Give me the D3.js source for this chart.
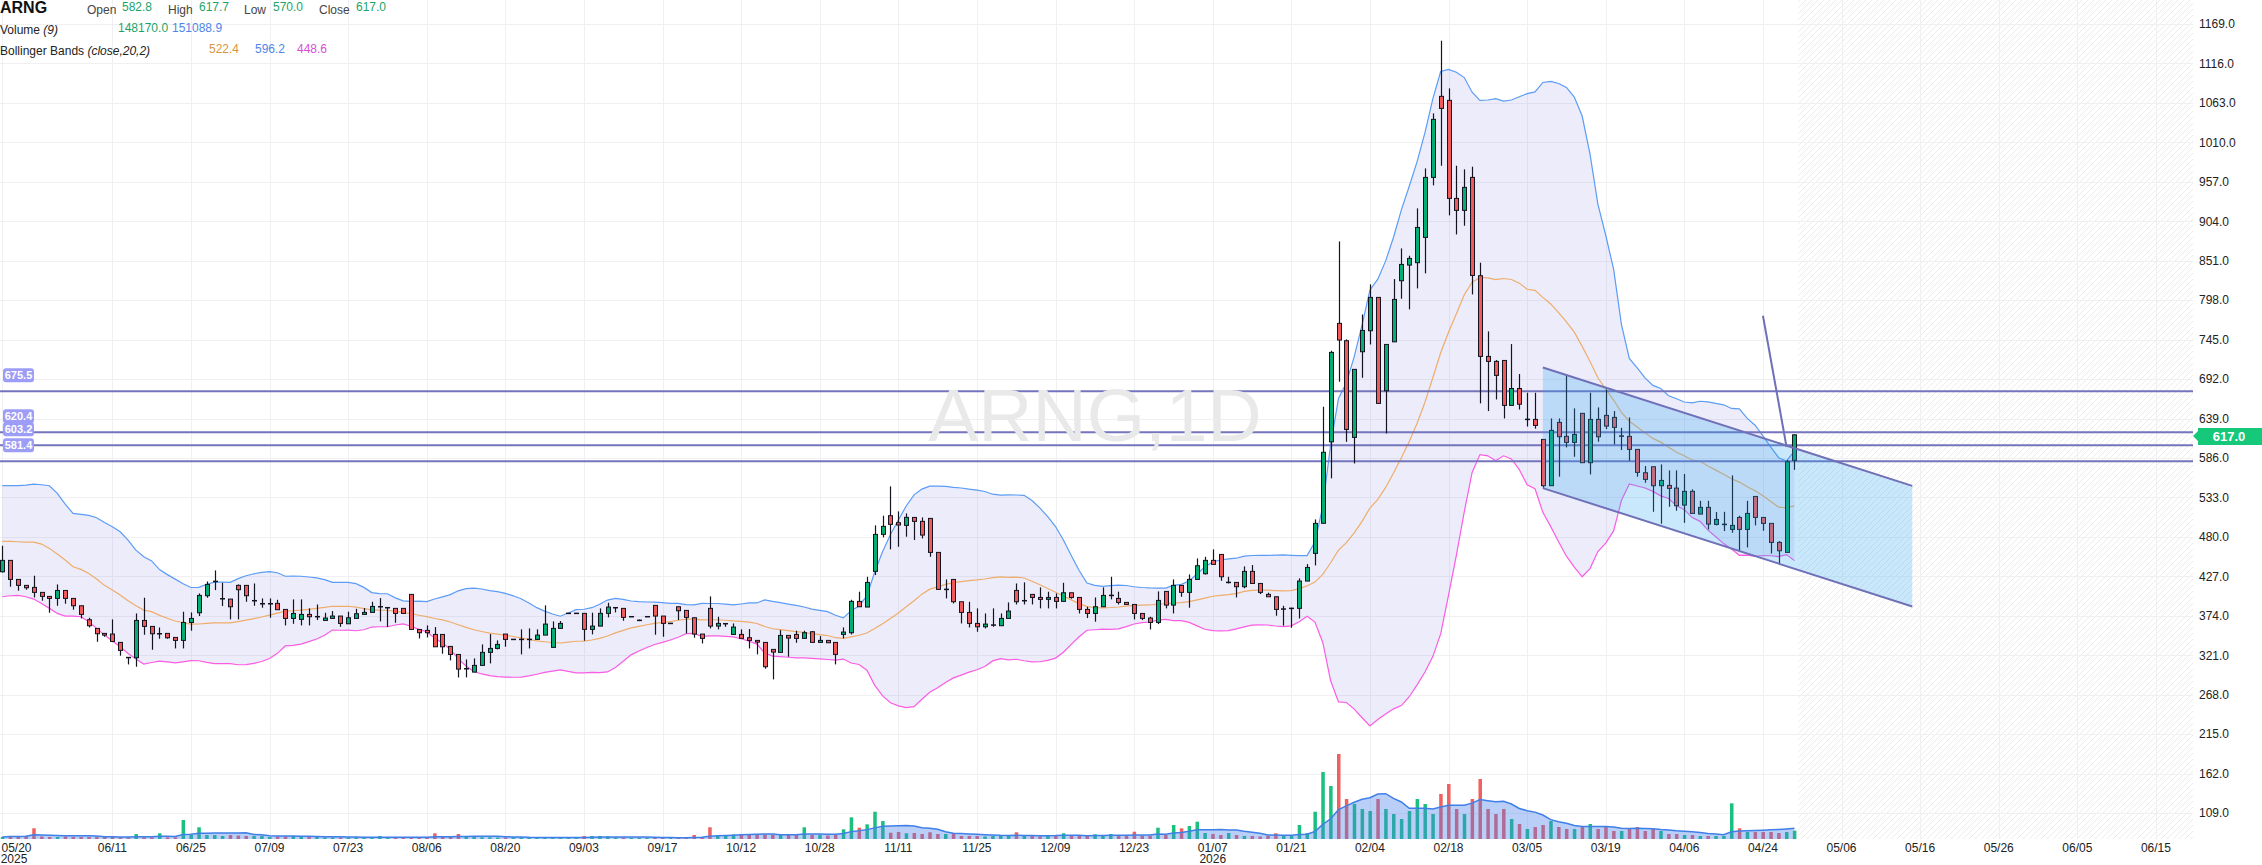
<!DOCTYPE html>
<html><head><meta charset="utf-8">
<script src="https://cdn.jsdelivr.net/npm/d3@7"></script>
<style>html,body{margin:0;padding:0;background:#fff;overflow:hidden}svg{display:block;font-family:"Liberation Sans",Arial,sans-serif}</style>
</head><body>
<svg id="c" width="2262" height="865"></svg>
<script>
const opens=[433.1,448.4,422.8,414.8,412.1,405.4,400.0,397.3,408.0,397.3,
387.4,368.6,357.0,350.3,349.4,338.2,317.8,317.6,367.7,359.7,
349.8,350.3,344.9,340.9,365.0,378.0,400.9,420.1,396.8,396.4,
414.8,414.8,394.2,390.1,390.1,390.6,382.5,370.4,369.1,375.8,
372.7,367.7,370.4,373.6,363.2,370.4,375.8,378.5,386.1,384.8,
383.9,383.9,402.7,355.6,354.3,348.9,348.9,332.8,322.0,302.8,
298.3,307.3,324.8,330.1,349.4,342.2,342.2,342.2,342.2,348.0,
331.5,357.0,377.2,377.2,377.2,355.7,360.1,377.2,384.8,383.9,
372.7,367.8,372.7,387.9,373.6,363.7,386.1,381.2,371.3,349.4,
383.9,360.1,363.3,348.9,348.9,344.5,340.9,338.2,328.8,324.8,
347.6,348.9,343.6,352.5,338.2,340.9,338.2,348.9,351.2,393.3,
385.7,433.6,483.3,508.4,499.0,495.4,506.1,500.8,504.8,459.1,
409.4,422.8,392.8,378.5,363.7,359.2,361.5,360.6,370.4,408.0,
394.2,402.7,398.6,396.0,398.6,393.3,404.9,398.6,382.5,377.1,
386.1,401.3,397.3,391.9,389.2,377.1,370.9,365.0,406.7,388.3,
414.8,405.4,422.8,430.4,448.4,456.4,418.8,418.8,413.0,433.6,
417.4,402.7,399.5,383.0,383.9,383.9,420.6,457.8,498.2,607.7,
766.8,743.5,613.6,728.7,756.9,801.7,676.3,742.0,824.1,845.1,
848.3,882.3,962.9,1071.8,1066.4,934.7,918.6,962.9,830.8,722.4,
715.7,717.0,656.6,679.3,637.8,637.8,610.9,548.7,633.8,615.0,
606.9,645.9,579.6,637.8,643.2,640.5,615.4,615.0,597.5,566.1,
574.2,548.7,549.1,545.5,522.7,541.1,510.6,519.6,496.7,496.7,
490.0,506.1,490.0,534.3,506.1,498.1,472.5,459.1,582.8];
const highs=[468.1,448.4,422.8,414.8,427.8,405.4,400.0,416.1,408.0,397.3,
387.4,371.3,357.0,350.3,369.1,338.2,317.8,377.1,398.2,359.7,
358.3,350.3,344.9,379.4,378.5,404.0,420.1,434.9,418.3,396.4,
416.1,414.8,417.4,397.3,397.3,395.5,382.5,396.0,396.0,383.9,
389.2,378.0,380.3,373.6,379.4,383.4,384.3,392.8,397.7,384.8,
383.9,383.9,402.7,355.6,361.0,358.8,348.9,332.8,322.0,315.3,
316.7,335.5,349.4,340.9,349.4,342.2,355.7,357.0,355.7,387.9,
366.4,366.9,377.2,377.2,377.2,378.1,383.9,391.5,384.8,383.9,
372.7,368.8,372.7,387.9,373.6,363.7,386.1,381.2,371.3,349.4,
400.0,372.7,363.3,363.7,355.7,356.1,340.9,338.2,328.8,354.8,
347.6,353.9,353.9,353.4,346.7,340.9,338.2,358.3,395.5,406.3,
426.4,495.4,508.4,547.8,514.2,511.5,506.1,506.1,504.8,459.1,
422.8,422.8,392.8,392.8,383.9,377.1,383.9,377.1,391.9,417.4,
418.8,402.7,412.1,406.3,404.0,418.3,404.9,398.6,386.1,398.6,
412.1,426.4,406.3,391.9,389.2,377.1,372.7,406.7,406.7,422.8,
414.8,429.5,451.0,453.3,463.1,456.4,426.4,418.8,440.3,442.1,
417.4,405.0,399.5,387.4,384.8,424.2,443.4,503.4,654.8,730.0,
876.9,745.3,705.0,778.8,819.2,801.7,738.5,826.3,867.5,857.7,
921.3,975.0,1048.9,1146.6,1082.5,978.6,973.7,977.3,848.3,756.0,
717.5,717.0,739.0,698.7,673.6,673.6,610.9,639.1,639.1,696.0,
652.6,645.9,673.6,653.9,678.1,649.0,626.6,640.5,597.5,575.1,
574.2,577.3,569.3,569.3,564.4,543.8,528.5,528.5,513.3,513.7,
562.6,508.4,528.5,534.3,506.1,498.1,474.3,583.2,617.7];
const lows=[432.0,413.0,407.6,409.0,398.6,394.2,378.0,387.4,390.1,382.1,
370.4,358.3,339.1,345.8,338.6,320.3,308.6,305.5,348.5,328.3,
343.1,343.1,330.1,330.1,353.9,373.6,398.2,408.5,387.0,369.1,
369.1,392.8,387.4,384.8,371.3,382.1,361.0,363.2,361.0,361.0,
368.2,367.7,370.4,359.2,363.2,370.4,375.8,378.5,366.4,358.8,
364.6,377.1,355.6,343.5,344.9,332.3,323.0,314.0,291.1,291.2,
298.3,307.3,310.0,328.8,332.4,342.2,322.1,330.1,342.2,348.0,
331.5,357.0,377.2,377.2,340.4,349.0,360.1,371.8,378.5,367.3,
372.7,366.8,372.7,348.5,345.8,363.7,368.2,350.3,344.5,336.8,
357.0,355.7,359.2,348.9,343.6,330.1,322.1,302.8,288.5,324.8,
318.9,337.7,343.6,338.2,338.2,337.7,308.6,343.6,348.9,386.1,
385.7,428.7,479.3,463.2,466.7,480.2,475.7,477.9,453.3,408.5,
397.3,390.6,363.7,358.3,352.5,357.0,359.2,360.6,370.4,389.2,
389.2,389.2,383.9,383.9,383.9,393.3,396.8,377.1,370.9,366.0,
386.1,396.0,389.2,389.2,369.1,368.2,355.6,362.8,383.9,377.1,
399.5,384.8,422.8,429.5,443.0,421.0,417.4,398.6,410.9,417.4,
403.1,399.5,374.0,360.6,357.9,370.4,420.6,441.6,498.2,558.6,
688.4,607.7,578.6,693.7,738.5,659.3,618.9,742.0,799.9,785.6,
813.8,834.0,952.2,978.6,911.9,886.3,898.0,805.7,659.3,649.0,
664.6,639.1,656.6,651.0,628.2,625.3,545.1,548.7,560.8,600.2,
587.6,579.6,563.9,607.8,624.8,604.2,596.6,582.3,560.8,552.7,
513.7,497.6,520.4,515.1,498.9,511.5,510.6,490.0,495.4,487.8,
485.5,461.3,465.8,495.4,488.2,457.7,443.0,459.1,570.0];
const closes=[448.4,422.8,414.8,411.6,405.4,400.0,397.3,408.0,397.3,387.4,
375.8,360.6,349.8,348.0,339.5,327.4,317.6,367.7,359.7,349.8,
349.8,344.4,340.9,365.0,370.4,401.3,416.1,420.1,396.8,386.1,
409.0,400.9,394.2,390.1,390.1,382.1,370.4,377.1,375.8,372.7,
372.7,370.9,373.6,363.7,371.3,376.7,378.5,386.5,386.1,384.8,
377.1,377.1,355.6,351.2,351.2,332.3,332.3,322.0,302.3,302.8,
307.3,324.8,330.1,335.5,342.2,342.2,342.2,342.2,348.0,362.8,
357.0,363.7,377.2,377.2,355.7,360.1,377.2,385.7,384.8,371.8,
372.7,367.8,372.7,373.6,363.7,363.7,380.7,371.8,349.4,343.6,
360.1,363.7,363.3,358.8,343.6,340.9,338.6,305.5,325.2,347.6,
344.0,343.6,351.2,338.2,340.9,337.7,322.1,352.1,393.3,386.1,
418.8,483.3,494.1,496.8,495.9,506.2,500.8,482.4,459.1,409.4,
409.4,392.8,378.5,363.7,359.2,362.8,361.5,370.4,380.3,392.8,
394.2,398.6,396.0,398.6,393.3,404.9,398.6,382.5,377.1,386.1,
401.3,401.3,391.9,389.2,377.1,370.4,365.0,394.6,388.3,414.8,
405.4,422.8,441.2,448.4,443.0,426.4,418.8,413.0,433.6,417.4,
405.4,399.5,382.5,383.0,383.9,420.6,438.9,498.1,593.6,727.8,
744.4,624.3,705.0,757.3,801.7,659.3,738.5,799.0,846.0,854.1,
895.7,962.9,1040.9,1055.6,934.7,918.6,949.5,831.2,722.4,715.7,
696.9,656.6,679.3,658.2,637.8,629.7,548.7,623.0,614.5,606.9,
617.6,579.6,637.8,614.5,628.8,627.1,615.4,597.5,566.6,557.2,
548.7,555.8,545.1,521.8,541.1,511.5,519.6,497.2,503.4,496.7,
495.4,490.0,511.5,506.1,498.1,472.5,461.3,580.9,617.0];
const volumes=[36000,54000,45000,54000,191000,45000,36000,36000,45000,36000,
36000,36000,36000,45000,36000,30000,30000,89000,30000,30000,
102000,30000,30000,339000,71000,209000,71000,71000,54000,71000,
62000,54000,54000,54000,36000,45000,45000,54000,45000,36000,
36000,27000,27000,27000,30000,27000,27000,27000,54000,27000,
27000,18000,36000,30000,30000,102000,36000,36000,89000,36000,
36000,30000,30000,27000,27000,27000,30000,27000,27000,27000,
27000,27000,18000,18000,54000,54000,54000,45000,27000,27000,
18000,18000,18000,27000,27000,18000,27000,27000,71000,36000,
209000,71000,71000,80000,80000,80000,80000,80000,71000,71000,
71000,71000,209000,71000,71000,62000,71000,173000,387000,202000,
262000,487000,321000,112000,125000,102000,107000,89000,120000,89000,
89000,102000,54000,54000,54000,45000,54000,54000,54000,120000,
54000,54000,45000,54000,54000,102000,54000,54000,54000,84000,
71000,89000,54000,54000,130000,54000,54000,202000,71000,250000,
191000,232000,309000,107000,89000,71000,107000,71000,54000,54000,
45000,54000,102000,54000,54000,250000,107000,487000,1196000,946000,
1518000,714000,625000,536000,500000,714000,536000,446000,357000,500000,
714000,625000,446000,804000,982000,536000,446000,714000,1071000,536000,
446000,536000,357000,268000,179000,214000,250000,321000,214000,179000,
179000,214000,268000,179000,214000,143000,143000,179000,214000,143000,
179000,143000,89000,89000,71000,71000,54000,54000,54000,54000,
637000,191000,125000,125000,125000,125000,107000,125000,148170];
// Bollinger values visible for the first bars (history before the window)
const bbUpperHead=[548.7,548.7,548.7,549.6,550.9,550.0,548.7,538.4,524.0,511.5,510.2,508.8,505.7,499.4,493.6,486.9,475.7,462.2,453.3];
const bbMidHead=[473.9,473.9,473.4,473.0,473.0,470.3,464.5,456.9,448.8,439.8,436.3,430.9,423.3,414.8,408.5,401.8,394.2,387.4,381.6];
const bbLowerHead=[399.5,400.9,401.3,399.5,396.4,390.6,383.9,377.1,373.6,373.6,372.7,366.0,357.0,348.0,340.0,332.4,323.4,315.8,309.1];
const dateTicks=["05/20","06/11","06/25","07/09","07/23","08/06","08/20","09/03","09/17","10/12","10/28","11/11","11/25","12/09","12/23","01/07","01/21","02/04","02/18","03/05","03/19","04/06","04/24","05/06","05/16","05/26","06/05","06/15"];
const dateTickBars=[0,14,24,34,44,54,64,74,84,94,104,114,124,134,144,154,164,174,184,194,204,214,224,234,244,254,264,274];
const yearLabels=[{bar:0,text:"2025"},{bar:154,text:"2026"}];
const priceTicks=[1169,1116,1063,1010,957,904,851,798,745,692,639,586,533,480,427,374,321,268,215,162,109];
const levels=[675.5,620.4,603.2,581.4];
const channelUpper=[[196,707.5],[243,548.5]];
const channelLower=[[196,545.5],[243,386.5]];
const trendLine=[[224,777],[227,601]];
const legendVol=["148170.0","151088.9"];
const legendBB=["522.4","596.2","448.6"];

const W=2262,H=865,plotR=2193,volBase=839;
const n=closes.length;
const svg=d3.select('#c');
const x=d3.scaleLinear().domain([0,274]).range([2.3,2.3+7.86*274]);
const y=d3.scaleLinear().domain([109,1169]).range([813,24]);
const yv=d3.scaleLinear().domain([0,1500000]).range([volBase,volBase-84]);

// BB
const bbU=[],bbM=[],bbL=[];
for(let i=0;i<n;i++){
  if(i<bbMidHead.length){bbU.push(bbUpperHead[i]);bbM.push(bbMidHead[i]);bbL.push(bbLowerHead[i]);continue;}
  const w=closes.slice(i-19,i+1);const m=d3.mean(w);const sd=Math.sqrt(d3.mean(w,v=>(v-m)*(v-m)));
  bbU.push(m+2*sd);bbM.push(m);bbL.push(m-2*sd);
}
const vma=volumes.map((v,i)=>d3.mean(volumes.slice(Math.max(0,i-8),i+1)));

const defs=svg.append('defs');
const pat=defs.append('pattern').attr('id','hatch').attr('patternUnits','userSpaceOnUse').attr('width',6).attr('height',6);
pat.append('path').attr('d','M-1,1 l2,-2 M0,6 l6,-6 M5,7 l2,-2').attr('stroke','#ececec').attr('stroke-width',1);
defs.append('clipPath').attr('id','plot').append('rect').attr('x',0).attr('y',0).attr('width',plotR).attr('height',volBase);

svg.append('rect').attr('width',W).attr('height',H).attr('fill','#fff');
const lastX=x(n-1)+4;
svg.append('rect').attr('x',lastX).attr('y',0).attr('width',plotR-lastX).attr('height',volBase).attr('fill','url(#hatch)');

// grid
const g=svg.append('g').attr('clip-path','url(#plot)');
g.selectAll('.hg').data(priceTicks).join('line').attr('x1',0).attr('x2',plotR).attr('y1',d=>Math.round(y(d))+0.5).attr('y2',d=>Math.round(y(d))+0.5).attr('stroke','#f0f0f2');
g.selectAll('.vg').data(dateTickBars).join('line').attr('y1',0).attr('y2',volBase).attr('x1',d=>Math.round(x(d))+0.5).attr('x2',d=>Math.round(x(d))+0.5).attr('stroke','#f0f0f2');

// watermark
svg.append('text').attr('x',1095).attr('y',441).attr('text-anchor','middle').attr('font-size',75).attr('fill','#e9e9e9').text('ARNG,1D');

// BB
const idx=d3.range(n);
g.append('path').datum(idx).attr('fill','rgba(125,125,230,0.15)').attr('d',d3.area().x(i=>x(i)).y0(i=>y(bbL[i])).y1(i=>y(bbU[i])));
const ln=arr=>d3.line().x(i=>x(i)).y(i=>y(arr[i]));
g.append('path').datum(idx).attr('fill','none').attr('stroke','#efad6a').attr('stroke-width',1.2).attr('d',ln(bbM));
g.append('path').datum(idx).attr('fill','none').attr('stroke','#5b9cf6').attr('stroke-width',1.2).attr('d',ln(bbU));
g.append('path').datum(idx).attr('fill','none').attr('stroke','#fa5ce4').attr('stroke-width',1.2).attr('d',ln(bbL));

// volume
const up=i=>closes[i]>=opens[i];
g.selectAll('.vb').data(idx).join('rect').attr('x',i=>x(i)-1.5).attr('width',3.5)
 .attr('y',i=>yv(volumes[i])).attr('height',i=>volBase-yv(volumes[i]))
 .attr('fill',i=>up(i)?'#1bc07f':'#f06060');
g.append('path').datum(idx).attr('fill','rgba(70,130,235,0.38)').attr('d',d3.area().x(i=>x(i)).y0(volBase).y1(i=>yv(vma[i])));
g.append('path').datum(idx).attr('fill','none').attr('stroke','#3f7fe8').attr('stroke-width',1.5).attr('d',d3.line().x(i=>x(i)).y(i=>yv(vma[i])));

// horizontal levels
g.selectAll('.lv').data(levels).join('line').attr('x1',0).attr('x2',plotR).attr('y1',d=>y(d)).attr('y2',d=>y(d)).attr('stroke','#7575bd').attr('stroke-width',2);

// candles
const cg=g.append('g');
idx.forEach(i=>{
  const cx=Math.round(x(i))+0.5;
  cg.append('line').attr('x1',cx).attr('x2',cx).attr('y1',y(highs[i])).attr('y2',y(lows[i])).attr('stroke','#141420').attr('stroke-width',1.2);
  const yo=y(opens[i]),yc=y(closes[i]);
  const top=Math.min(yo,yc),h=Math.abs(yo-yc);
  if(h<1.2){
    cg.append('line').attr('x1',cx-2.5).attr('x2',cx+2.5).attr('y1',top).attr('y2',top).attr('stroke','#141420').attr('stroke-width',1.5);
  } else {
    cg.append('rect').attr('x',cx-2).attr('y',top).attr('width',4).attr('height',h)
      .attr('fill',up(i)?'#04ad72':'#f05a5a').attr('stroke','#141420').attr('stroke-width',1);
  }
});

// channel
const chPoly=[channelUpper[0],channelUpper[1],channelLower[1],channelLower[0]];
const chLine=d3.line().x(d=>x(d[0])).y(d=>y(d[1]));
g.append('path').datum(chPoly).attr('fill','rgba(41,162,240,0.25)').attr('d',d=>chLine(d)+'Z');
[channelUpper,channelLower,trendLine].forEach(seg=>{
  g.append('path').datum(seg).attr('fill','none').attr('stroke','#7070b8').attr('stroke-width',2).attr('d',chLine);
});

// level tags
levels.forEach(v=>{
  const yy=y(v)-16;
  svg.append('rect').attr('x',3).attr('y',yy-7).attr('width',31).attr('height',14).attr('rx',3).attr('fill','#9d9df7');
  svg.append('text').attr('x',18.5).attr('y',yy+4).attr('text-anchor','middle').attr('font-size',11).attr('font-weight','bold').attr('fill','#fff').text(v.toFixed(1));
});

// right axis
svg.selectAll('.pt').data(priceTicks).join('text').attr('x',2199).attr('y',d=>y(d)+4.3).attr('font-size',12).attr('fill','#222').text(d=>d.toFixed(1));
const yl=y(closes[n-1]);
svg.append('path').attr('d',`M2193,${yl+1} L2198,${yl-4} L2198,${yl-7} L2262,${yl-7} L2262,${yl+10} L2198,${yl+10} L2198,${yl+6} Z`).attr('fill','#16c87a');
svg.append('text').attr('x',2229).attr('y',yl+6).attr('text-anchor','middle').attr('font-size',13).attr('font-weight','bold').attr('fill','#fff').text(closes[n-1].toFixed(1));

// date axis
dateTicks.forEach((t,k)=>{
  let cx=x(dateTickBars[k]);
  if(cx<16)cx=16.5;
  svg.append('text').attr('x',cx).attr('y',851.5).attr('text-anchor','middle').attr('font-size',12).attr('fill','#222').text(t);
});
yearLabels.forEach(d=>{
  let cx=x(d.bar); if(cx<16)cx=14;
  svg.append('text').attr('x',cx).attr('y',862.5).attr('text-anchor','middle').attr('font-size',12).attr('fill','#222').text(d.text);
});

// legend
const L=svg.append('g');
const tx=(xx,yy,t,o)=>{const e=L.append('text').attr('x',xx).attr('y',yy).attr('font-size',(o&&o.fs)||12).attr('fill',(o&&o.c)||'#333').text(t);if(o&&o.b)e.attr('font-weight','bold');if(o&&o.i)e.attr('font-style','italic');return e;};
tx(0,13.3,'ARNG',{fs:16,b:1,c:'#111'});
const gc='#1ba46a';
tx(87,14,'Open',{c:'#444'});tx(122,10.7,opens[n-1].toFixed(1),{c:gc});
tx(168,14,'High',{c:'#444'});tx(199,10.7,highs[n-1].toFixed(1),{c:gc});
tx(244,14,'Low',{c:'#444'});tx(273,10.7,lows[n-1].toFixed(1),{c:gc});
tx(319,14,'Close',{c:'#444'});tx(356,10.7,closes[n-1].toFixed(1),{c:gc});
const v=tx(0,34,'Volume ',{c:'#222'});v.append('tspan').attr('font-style','italic').text('(9)');
tx(118,31.7,legendVol[0],{c:gc});tx(172,31.7,legendVol[1],{c:'#4f86e8'});
const b=tx(0,55,'Bollinger Bands ',{c:'#222'});b.append('tspan').attr('font-style','italic').text('(close,20,2)');
tx(209,53.3,legendBB[0],{c:'#d9963e'});tx(255,53.3,legendBB[1],{c:'#4f86e8'});tx(297,53.3,legendBB[2],{c:'#d64fd6'});
</script>
</body></html>
